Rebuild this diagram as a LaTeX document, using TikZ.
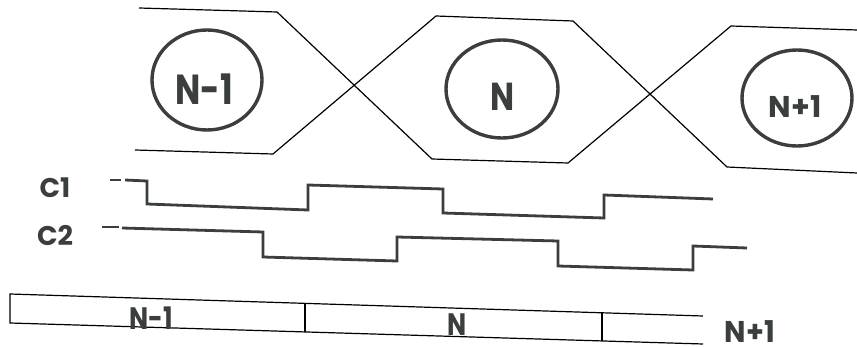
\documentclass[tikz,border=0pt]{standalone}
\usepackage{fontspec}
\setmainfont{Poppins}
\usetikzlibrary{shapes.geometric}
\definecolor{ink}{HTML}{3A3E3E}
\tikzset{
  hexline/.style={line width=1.2pt, black, line join=miter},
  cell/.style={ellipse, draw=ink, line width=3.4pt, inner sep=0pt},
  wave/.style={line width=2.8pt, ink, line join=miter},
  bar/.style={line width=1.2pt, black},
  lbl/.style={text=ink, inner sep=0pt, anchor=center},
}
\begin{document}
\begin{tikzpicture}[x=1pt,y=-1pt]
\useasboundingbox (0,0) rectangle (857,347);
% hexagon outlines
\draw[hexline] (139,8) -- (277,12) -- (432,159) -- (568,163) -- (731,26) -- (857,30);
\draw[hexline] (135,150) -- (273,154) -- (436,16) -- (573,21) -- (727,167) -- (857,173);
% cells
\node[cell, minimum width=110, minimum height=100] (c1) at (207,80) {};
\node[cell, minimum width=112, minimum height=98] (c2) at (502,89) {};
\node[cell, minimum width=110, minimum height=96] (c3) at (797,98) {};
\node[lbl, font=\fontsize{42}{42}\selectfont\bfseries, xscale=0.8] (t1) at (204,89) {N-1};
\node[lbl, font=\fontsize{39}{39}\selectfont\bfseries, xscale=0.82] (t2) at (503,97) {N};
\node[lbl, font=\fontsize{30}{30}\selectfont\bfseries, xscale=1.0] (t3) at (795,107) {N+1};
% signals
\node[lbl, font=\fontsize{27}{27}\selectfont\bfseries, xscale=1.0] (l1) at (55,188) {C1};
\node[lbl, font=\fontsize{27}{27}\selectfont\bfseries, xscale=1.0] (l2) at (55,235) {C2};
\coordinate (a0) at (110,180);
\coordinate (a1) at (121,180);
\draw[wave] (a0) -- (a1);
\draw[wave] (125,180) -- (147,181) -- (147,204) -- (308,210) -- (308,185) -- (443,189) -- (443,213) -- (604,218) -- (604,195) -- (713,199);
\coordinate (b0) at (102,227);
\coordinate (b1) at (119,227);
\draw[wave] (b0) -- (b1);
\draw[wave] (122,228) -- (263,232) -- (263,257) -- (397,261) -- (397,237) -- (558,241) -- (558,266) -- (693,270) -- (693,246) -- (747,248);
% frame bar
\draw[bar] (703,316) -- (10,294) -- (10,323) -- (703,344);
\draw[bar] (305,303) -- (305,332);
\draw[bar] (602,313) -- (602,341);
\node[lbl, font=\fontsize{31}{31}\selectfont\bfseries, xscale=0.82] (f1) at (151,318) {N-1};
\node[lbl, font=\fontsize{31}{31}\selectfont\bfseries, xscale=0.82] (f2) at (457,325) {N};
\node[lbl, font=\fontsize{30}{30}\selectfont\bfseries, xscale=0.95, text depth=0pt, anchor=base] (f3) at (750,342) {N+1};
\end{tikzpicture}
\end{document}
